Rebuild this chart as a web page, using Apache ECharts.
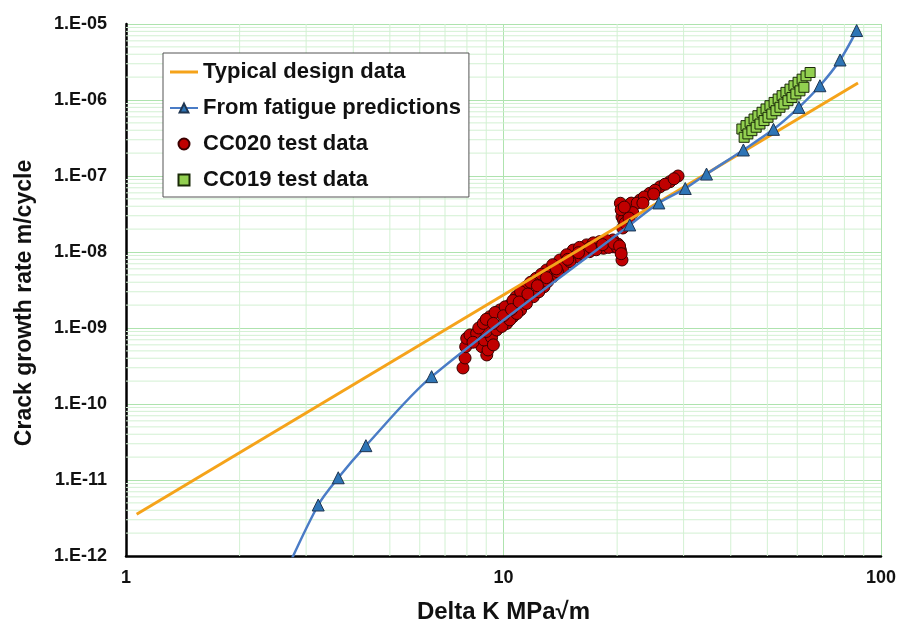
<!DOCTYPE html>
<html style="height: 100%">
<head>
    <meta charset="utf-8">
    <script src="https://cdn.jsdelivr.net/npm/echarts@6/dist/echarts.min.js"></script>
</head>
<body style="height: 100%; margin: 0; background: #fff">
<div id="container" style="width: 901px; height: 624px"></div>
<script type="text/javascript">
// Typical design data (straight Paris line)
const designK = [1.067, 86.9];
const designRate = [3.54e-12, 1.67e-6];

// From fatigue predictions (first point sits below the axis)
const predK = [2.6, 3.23, 3.65, 4.32, 6.45, 21.6, 25.8, 30.3, 34.5, 43.2, 51.9, 60.6, 68.9, 77.9, 86.2];
const predRate = [5e-13, 4.69e-12, 1.07e-11, 2.83e-11, 2.29e-10, 2.27e-8, 4.42e-8, 6.85e-8, 1.06e-7, 2.2e-7, 4.11e-7, 8.0e-7, 1.54e-6, 3.36e-6, 8.2e-6];

// CC020 test data
const cc020K = [7.81, 7.91, 7.94, 7.99, 8.15, 8.49, 8.76, 9.03, 9.10, 8.88, 8.3, 9.3, 9.0, 8.6, 9.4,
    8.84, 9.21, 9.79, 10.4, 10.8, 11.5, 12.2, 13.0, 14.1, 15.3, 16.6, 18.0, 19.5,
    9.0, 9.5, 10.1, 10.6, 11.1, 11.8, 12.6, 13.5, 14.7, 15.9, 17.3, 18.7,
    9.59, 10.2, 10.6, 11.1, 12.0, 12.8, 13.5, 14.4, 15.6, 16.9, 18.4, 19.5, 20.4, 20.6, 20.1,
    9.9, 10.4, 10.85, 11.5, 12.4, 13.1, 13.9, 15.0, 16.2, 17.6, 19.0, 20.0,
    9.4, 10.0, 10.5, 11.0, 11.6, 12.3, 13.0, 13.8, 14.8, 15.8, 17.0, 18.3, 19.6, 20.3, 20.5,
    20.4, 20.6, 20.8, 21.2, 21.6, 22.1, 23.0, 24.4, 26.0, 27.6, 29.0, 20.7,
    20.5, 21.0, 21.8, 22.6, 23.6, 25.2, 26.8, 28.3, 22.0, 23.4, 25.0, 21.5, 20.9];
const cc020Rate = [2.98e-10, 4.03e-10, 5.68e-10, 7.31e-10, 8.09e-10, 8.51e-10, 5.68e-10, 4.42e-10, 5.14e-10, 6.95e-10, 6.5e-10, 7.5e-10, 9e-10, 1.0e-9, 6e-10,
    1.15e-9, 1.41e-9, 1.73e-9, 2.01e-9, 2.58e-9, 3.49e-9, 4.51e-9, 5.79e-9, 7.85e-9, 1.06e-8, 1.24e-8, 1.37e-8, 1.44e-8,
    1.3e-9, 1.6e-9, 1.9e-9, 2.3e-9, 3.0e-9, 4.0e-9, 5.1e-9, 6.8e-9, 9.2e-9, 1.15e-8, 1.32e-8, 1.42e-8,
    9.42e-10, 1.15e-9, 1.41e-9, 1.73e-9, 2.58e-9, 3.49e-9, 4.73e-9, 6.41e-9, 8.67e-9, 1.01e-8, 1.12e-8, 1.17e-8, 1.06e-8, 7.85e-9, 1.27e-8,
    1.05e-9, 1.28e-9, 1.55e-9, 2.1e-9, 3.0e-9, 4.1e-9, 5.5e-9, 7.5e-9, 9.5e-9, 1.07e-8, 1.15e-8, 1.15e-8,
    1.15e-9, 1.45e-9, 1.75e-9, 2.2e-9, 2.8e-9, 3.6e-9, 4.6e-9, 6.0e-9, 8.0e-9, 9.8e-9, 1.16e-8, 1.25e-8, 1.3e-8, 1.2e-8, 9.5e-9,
    4.38e-8, 2.91e-8, 2.64e-8, 3.39e-8, 3.57e-8, 4.15e-8, 4.83e-8, 5.91e-8, 7.22e-8, 8.41e-8, 1.0e-7, 2.07e-8,
    3.6e-8, 2.4e-8, 4.4e-8, 4.4e-8, 5.3e-8, 6.5e-8, 7.8e-8, 9.2e-8, 3.3e-8, 4.4e-8, 5.8e-8, 2.8e-8, 3.9e-8];

// CC019 test data
const cc019K = [42.8, 43.9, 45.0, 46.1, 47.2, 48.4, 49.6, 50.8, 52.1, 53.4, 54.7, 56.0, 57.4, 58.8, 60.3, 61.8, 63.3, 64.9,
    43.4, 44.4, 45.5, 46.7, 47.8, 49.0, 50.2, 51.4, 52.7, 54.0, 55.3, 56.7, 58.1, 59.5, 61.0, 62.5];
const cc019Rate = [4.15e-7, 4.6e-7, 5.09e-7, 5.62e-7, 6.21e-7, 6.89e-7, 7.62e-7, 8.42e-7, 9.29e-7, 1.03e-6, 1.14e-6, 1.26e-6, 1.39e-6, 1.54e-6, 1.71e-6, 1.88e-6, 2.08e-6, 2.3e-6,
    3.23e-7, 3.58e-7, 3.95e-7, 4.38e-7, 4.83e-7, 5.36e-7, 5.92e-7, 6.54e-7, 7.23e-7, 8.02e-7, 8.85e-7, 9.79e-7, 1.08e-6, 1.2e-6, 1.32e-6, 1.47e-6];

const seriesNames = ['Typical design data', 'From fatigue predictions', 'CC020 test data', 'CC019 test data'];

function pairs(xs, ys) {
    const out = [];
    for (let i = 0; i < xs.length; i++) {
        out.push([xs[i], ys[i]]);
    }
    return out;
}

// minor grid lines (2..9 in every decade), drawn as broken polylines
const minorX = [];
for (let d = 1; d <= 10; d *= 10) {
    for (let m = 2; m <= 9; m++) minorX.push(m * d);
}
const minorY = [];
for (let e = -12; e < -5; e++) {
    for (let m = 2; m <= 9; m++) minorY.push(m * Math.pow(10, e));
}
const vGrid = [];
minorX.forEach(v => { vGrid.push([v, 1e-12], [v, 1e-5], [v, '-']); });
const hGrid = [];
minorY.forEach(v => { hGrid.push([1, v], [100, v], ['-', v]); });

function gridSeries(data) {
    return {
        type: 'line',
        z: 1,
        silent: true,
        symbol: 'none',
        connectNulls: false,
        data: data,
        lineStyle: {color: '#d3f1d3', width: 1},
        emphasis: {disabled: true}
    };
}

const font = 'Liberation Sans, Arial, sans-serif';
const dom = document.getElementById('container');
const myChart = echarts.init(dom);

const option = {
    animation: false,
    backgroundColor: '#ffffff',
    grid: {left: 126, right: 20, top: 24, bottom: 68, containLabel: false, outerBoundsMode: 'none'},
    legend: {
        data: [
            {name: seriesNames[0], icon: 'path://M0 0H28V3H0Z'},
            {name: seriesNames[1]},
            {name: seriesNames[2]},
            {name: seriesNames[3], icon: 'path://M0 0H10V10H0Z'}
        ],
        orient: 'vertical',
        left: 163,
        top: 53,
        padding: [7, 8, 5, 6],
        itemGap: 12,
        itemWidth: 28,
        itemHeight: 11,
        backgroundColor: '#ffffff',
        borderColor: '#555555',
        borderWidth: 1,
        textStyle: {fontFamily: font, fontWeight: 'bold', fontSize: 22, color: '#111', lineHeight: 24}
    },
    xAxis: {
        type: 'log',
        logBase: 10,
        min: 1,
        max: 100,
        splitNumber: 2,
        name: 'Delta K MPa\u221Am',
        nameLocation: 'middle',
        nameGap: 44,
        nameTextStyle: {fontFamily: font, fontWeight: 'bold', fontSize: 24, color: '#111'},
        axisLine: {lineStyle: {color: '#000', width: 2.5}},
        axisTick: {show: false},
        axisLabel: {
            margin: 13,
            fontFamily: font, fontWeight: 'bold', fontSize: 18, color: '#111',
            formatter: v => String(Math.round(v))
        },
        splitLine: {show: true, lineStyle: {color: '#aee3ae', width: 1}}
    },
    yAxis: {
        type: 'log',
        logBase: 10,
        min: 1e-12,
        max: 1e-5,
        splitNumber: 7,
        name: 'Crack growth rate m/cycle',
        nameLocation: 'middle',
        nameGap: 90,
        nameTextStyle: {fontFamily: font, fontWeight: 'bold', fontSize: 23, color: '#111', padding: [0, 26, 0, 0]},
        axisLine: {show: true, lineStyle: {color: '#000', width: 2.5}},
        axisTick: {show: false},
        axisLabel: {
            margin: 19,
            fontFamily: font, fontWeight: 'bold', fontSize: 18, color: '#111',
            formatter: function (v) {
                const e = Math.round(Math.log10(v));
                return '1.E' + (e < 0 ? '-' : '+') + String(Math.abs(e)).padStart(2, '0');
            }
        },
        splitLine: {show: true, lineStyle: {color: '#aee3ae', width: 1}}
    },
    series: [
        gridSeries(vGrid),
        gridSeries(hGrid),
        {
            name: seriesNames[0],
            type: 'line',
            data: pairs(designK, designRate),
            symbol: 'none',
            color: '#f5a31a',
            lineStyle: {color: '#f5a31a', width: 3}
        },
        {
            name: seriesNames[1],
            type: 'line',
            data: pairs(predK, predRate),
            smooth: 0.3,
            symbol: 'triangle',
            symbolSize: 12,
            showAllSymbol: true,
            color: '#2e75b6',
            lineStyle: {color: '#4a7cc6', width: 2.5},
            itemStyle: {color: '#2e75b6', borderColor: '#1f3550', borderWidth: 1}
        },
        {
            name: seriesNames[2],
            type: 'scatter',
            data: pairs(cc020K, cc020Rate),
            symbol: 'circle',
            symbolSize: 12,
            itemStyle: {color: '#c00000', borderColor: '#3a0000', borderWidth: 1, opacity: 1}
        },
        {
            name: seriesNames[3],
            type: 'scatter',
            data: pairs(cc019K, cc019Rate),
            symbol: 'rect',
            symbolSize: 10,
            itemStyle: {color: '#92d050', borderColor: '#1a2a08', borderWidth: 1, opacity: 1}
        }
    ]
};

myChart.setOption(option, true);
</script>
</body>
</html>
